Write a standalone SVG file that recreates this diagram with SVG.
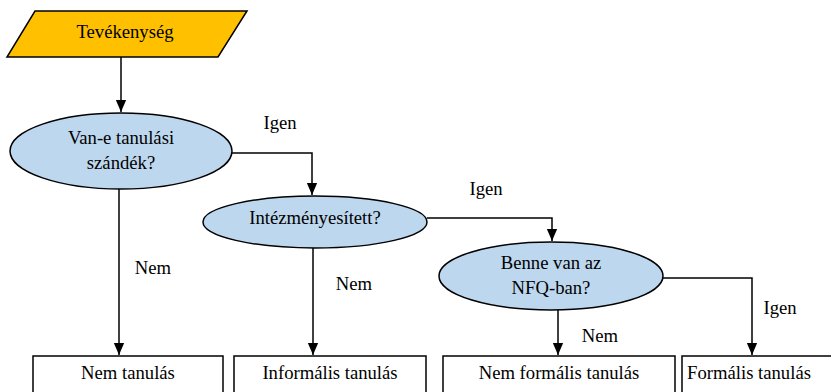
<svg xmlns="http://www.w3.org/2000/svg" width="831" height="392" viewBox="0 0 831 392">
<style>
text{font-family:'Liberation Serif',serif;font-size:18.67px;fill:#000;text-anchor:middle}
.dec{fill:#BDD7EE;stroke:#000;stroke-width:1.5}
.box{fill:#fff;stroke:#000;stroke-width:1.5}
.con{fill:none;stroke:#000;stroke-width:1.5;marker-end:url(#ah)}
</style>
<defs>
<marker id="ah" markerUnits="userSpaceOnUse" markerWidth="12" markerHeight="14" refX="14" refY="6" orient="auto" viewBox="0 0 14 12">
<path d="M0,0 L14,6 L0,12 z" fill="#000"/>
</marker>
</defs>
<g id="connectors">
<path class="con" d="M121,57 V112"/>
<path class="con" d="M232,153 H312 V195"/>
<path class="con" d="M427,218 H552 V241"/>
<path class="con" d="M663,278 H752 V355"/>
<path class="con" d="M119,189 V355"/>
<path class="con" d="M313,248 V355"/>
<path class="con" d="M558,310 V355"/>
</g>
<g id="start">
<polygon points="35,11 247,11 218,57 7,57" fill="#FFC000" stroke="#000" stroke-width="1.5"/>
<text x="125" y="38">Tevékenység</text>
</g>
<g id="q1">
<ellipse class="dec" cx="121" cy="151" rx="111" ry="38"/>
<text x="121" y="144">Van-e tanulási</text>
<text x="121" y="169">szándék?</text>
</g>
<g id="q2">
<ellipse class="dec" cx="315" cy="222" rx="112" ry="26"/>
<text x="315" y="224">Intézményesített?</text>
</g>
<g id="q3">
<ellipse class="dec" cx="551" cy="276" rx="112" ry="34"/>
<text x="551" y="269">Benne van az</text>
<text x="551" y="294">NFQ-ban?</text>
</g>
<g id="r1">
<rect class="box" x="33" y="356" width="190" height="50"/>
<text x="128" y="379">Nem tanulás</text>
</g>
<g id="r2">
<rect class="box" x="234" y="356" width="192" height="50"/>
<text x="330" y="379">Informális tanulás</text>
</g>
<g id="r3">
<rect class="box" x="443" y="356" width="232" height="50"/>
<text x="559" y="379">Nem formális tanulás</text>
</g>
<g id="r4">
<rect class="box" x="682" y="356" width="160" height="50"/>
<text x="749" y="379">Formális tanulás</text>
</g>
<g id="labels">
<text x="280" y="129">Igen</text>
<text x="486" y="195">Igen</text>
<text x="780" y="314">Igen</text>
<text x="153" y="274">Nem</text>
<text x="354" y="290">Nem</text>
<text x="600" y="342">Nem</text>
</g>
</svg>
